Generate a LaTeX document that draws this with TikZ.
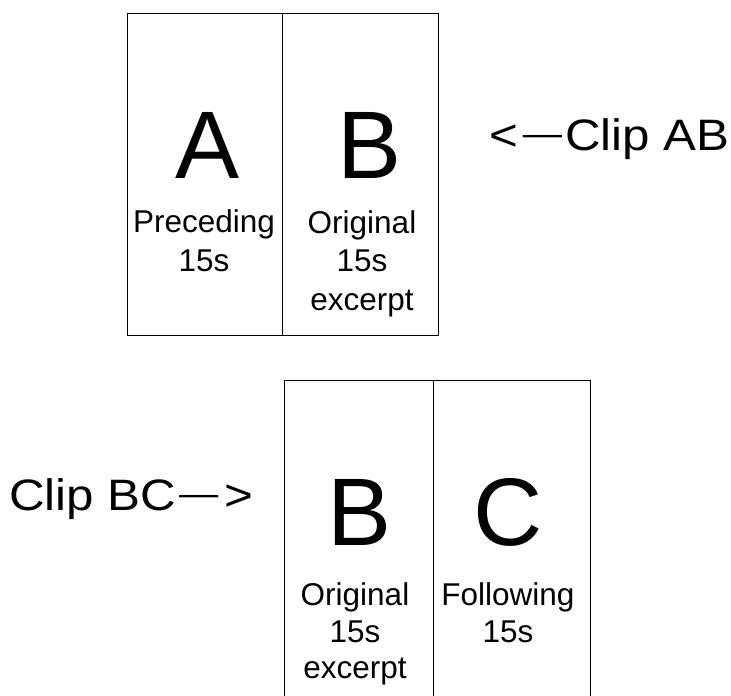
\documentclass[tikz,border=0pt]{standalone}
\usepackage{fontspec}
\setmainfont{Liberation Sans}
\newfontfamily\clipfont[FakeStretch=1.12]{Liberation Sans}
\newcommand{\cdash}{\raisebox{5pt}{\fontsize{35}{35}\selectfont —}}
\begin{document}
\begin{tikzpicture}[x=1pt,y=-1pt,
  frame/.style={draw, line width=1pt},
  big/.style={font=\fontsize{96}{96}\selectfont, inner sep=0pt, anchor=base},
  small/.style={font=\fontsize{31.5}{31.5}\selectfont, inner sep=0pt, anchor=base},
  cliplabel/.style={font=\clipfont\fontsize{44}{44}\selectfont, inner sep=0pt, anchor=base west}]
\useasboundingbox (0,0) rectangle (731,696);
% top group
\draw[frame] (127,13) rectangle (438,335);
\draw[frame] (282,13) -- (282,335);
\node[big] (A) at (208,178) {A};
\node[big] (B1) at (370,178) {B};
\node[small] (prec) at (204,232) {Preceding};
\node[small] (prec15) at (204,271) {15s};
\node[small] (orig1) at (362,233) {Original};
\node[small] (orig115) at (362,271) {15s};
\node[small] (exc1) at (362,310) {excerpt};
\node[cliplabel] (clipab) at (489,150) {<\hspace{5pt}\cdash\hspace{3pt}Clip AB};
% bottom group
\draw[frame] (284,700) -- (284,380) -- (590,380) -- (590,700);
\draw[frame] (433,380) -- (433,700);
\node[big] (B2) at (360,545) {B};
\node[big] (C) at (508,545) {C};
\node[small] (orig2) at (355,605) {Original};
\node[small] (orig215) at (355,642) {15s};
\node[small] (exc2) at (355,678) {excerpt};
\node[small] (foll) at (508,605) {Following};
\node[small] (foll15) at (508,642) {15s};
\node[cliplabel] (clipbc) at (9,510) {Clip BC\hspace{3pt}\cdash\hspace{6pt}>};
\end{tikzpicture}
\end{document}
